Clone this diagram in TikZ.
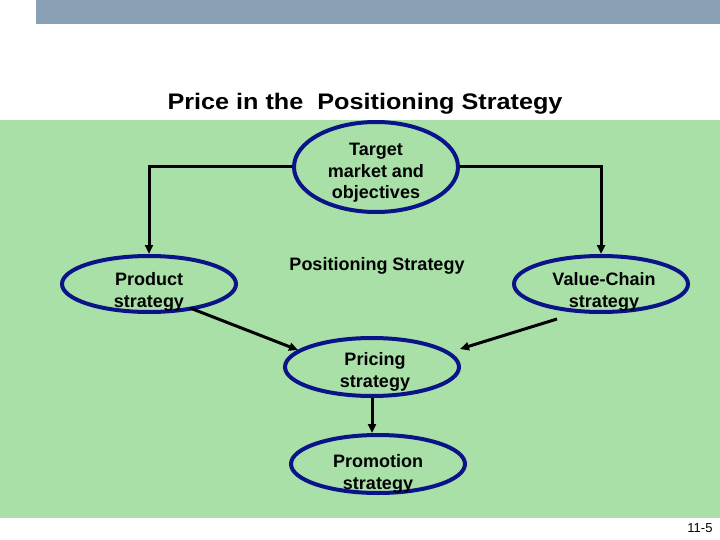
\documentclass[tikz,border=0pt]{standalone}
\usepackage{fontspec}
\setmainfont{Liberation Sans}
\usetikzlibrary{shapes.geometric,arrows.meta}
\definecolor{barblue}{HTML}{8AA0B4}
\definecolor{bggreen}{HTML}{A8E0A8}
\definecolor{navy}{HTML}{0A1488}
\tikzset{
  oval/.style={ellipse, draw=navy, line width=4pt, minimum width=174pt, minimum height=56pt, inner sep=0pt},
  lbl/.style={font=\bfseries\fontsize{18}{21.5}\selectfont, align=center, inner sep=0pt, text=black},
  conn/.style={line width=3pt, draw=black, -{Triangle[length=9pt,width=8pt]}},
}
\begin{document}
\begin{tikzpicture}[x=1pt,y=-1pt]
\useasboundingbox (0,0) rectangle (720,540);
\fill[white] (0,0) rectangle (720,540);
\fill[barblue] (36,0) rectangle (720,24);
\fill[bggreen] (0,120) rectangle (720,518);
\node[font=\bfseries\fontsize{22.5}{24}\selectfont, inner sep=0pt, anchor=base] (title) at (365,110) {\scalebox{1.12}[1]{Price in the\ \ Positioning Strategy}};
% ellipses
\node[oval, minimum width=164pt, minimum height=90pt] (tgt) at (376,167) {};
\node[oval] (prod) at (149,284) {};
\node[oval] (val) at (601,284) {};
\node[oval, minimum height=58pt] (pri) at (372,367) {};
\node[oval, minimum height=58pt] (pro) at (378,464) {};
% texts
\node[lbl] (tgtT) at (376,173) {Target\\market and\\objectives};
\node[lbl] (prodT) at (149,292) {Product\\strategy};
\node[lbl] (valT) at (604,292) {Value-Chain\\strategy};
\node[lbl] (posT) at (377,266) {Positioning Strategy};
\node[lbl] (priT) at (375,372) {Pricing\\strategy};
\node[lbl] (proT) at (378,474) {Promotion\\strategy};
\node[font=\fontsize{13}{15}\selectfont, inner sep=0pt] (pg) at (700,528) {11-5};
% connectors
\draw[conn] (tgt.west) -| (prod.north);
\draw[conn] (tgt.east) -| (val.north);
\coordinate (vs) at (557,319);
\coordinate (pe) at (460,349);
\coordinate (ps) at (190,308);
\coordinate (pl) at (298,350);
\draw[conn] (ps) -- (pl);
\draw[conn] (vs) -- (pe);
\draw[conn] (pri.south) -- (pri.south |- pro.north);
\end{tikzpicture}
\end{document}
